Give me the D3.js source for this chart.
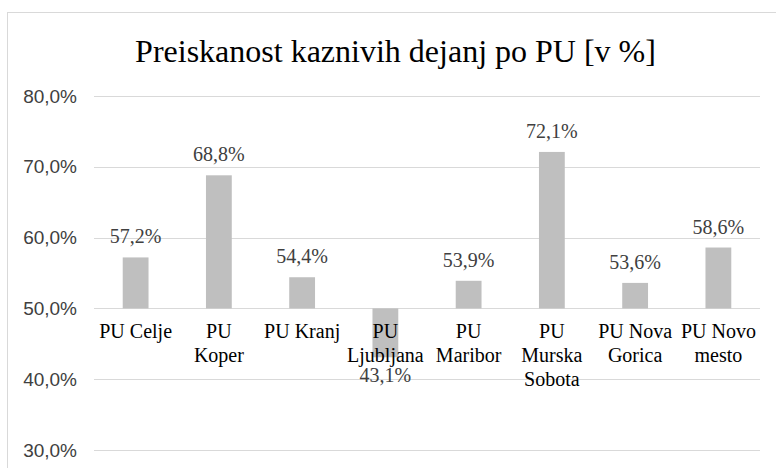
<!DOCTYPE html>
<html>
<head>
<meta charset="utf-8">
<script src="https://cdn.jsdelivr.net/npm/d3@7"></script>
<style>
  body { margin: 0; background: #fff; }
  svg { display: block; }
</style>
</head>
<body>
<div id="chart"></div>
<script>
const categories = ['PU Celje', 'PU Koper', 'PU Kranj', 'PU Ljubljana', 'PU Maribor',
  'PU Murska Sobota', 'PU Nova Gorica', 'PU Novo mesto'];
// how Excel wrapped each category label
const labelLines = [
  ['PU Celje'], ['PU', 'Koper'], ['PU Kranj'], ['PU', 'Ljubljana'], ['PU', 'Maribor'],
  ['PU', 'Murska', 'Sobota'], ['PU Nova', 'Gorica'], ['PU Novo', 'mesto']
];
const values = [57.2, 68.8, 54.4, 43.1, 53.9, 72.1, 53.6, 58.6];
const yTicks = [30, 40, 50, 60, 70, 80];
const baseValue = 50;

const W = 776, H = 468;
const serif = "'Liberation Serif'";
const sans = "'Liberation Sans'";

const sl = d3.formatLocale({ decimal: ',', thousands: '.', grouping: [3], currency: ['', ' €'] });
const pct = v => sl.format('.1f')(v) + '%';

const svg = d3.select('#chart').append('svg')
  .attr('width', W).attr('height', H);

// chart area border (runs off the right and bottom edges)
svg.append('rect')
  .attr('x', 7.5).attr('y', 12.5)
  .attr('width', 820).attr('height', 520)
  .attr('fill', '#fff')
  .attr('stroke', '#d9d9d9');

// title: set small and scaled up, the serif face misbehaves at large sizes here
svg.append('text')
  .attr('transform', 'translate(395.5,62) scale(1.6)')
  .attr('text-anchor', 'middle')
  .style('font-family', serif)
  .style('font-size', '20px')
  .attr('fill', '#000')
  .text('Preiskanost kaznivih dejanj po PU [v %]');

const x = d3.scaleBand()
  .domain(categories)
  .range([94, 760])
  .paddingInner(0.69)
  .paddingOuter(0.345);

const y = d3.scaleLinear()
  .domain([30, 80])
  .range([450, 96]);

// gridlines
svg.append('g')
  .selectAll('line')
  .data(yTicks)
  .join('line')
  .attr('x1', 94).attr('x2', 760)
  .attr('y1', d => Math.round(y(d)) + 0.5)
  .attr('y2', d => Math.round(y(d)) + 0.5)
  .attr('stroke', '#d9d9d9')
  .attr('stroke-width', 1);

// y axis labels
const yAxis = svg.append('g')
  .attr('transform', 'translate(94,0)')
  .call(d3.axisLeft(y).tickValues(yTicks).tickSize(0).tickPadding(17).tickFormat(pct));
yAxis.select('.domain').remove();
yAxis.selectAll('text')
  .style('font-family', sans)
  .style('font-size', '19px')
  .attr('fill', '#404040');

// bars, drawn from the 50 % baseline
svg.append('g')
  .selectAll('rect')
  .data(values)
  .join('rect')
  .attr('x', (d, i) => x(categories[i]))
  .attr('width', x.bandwidth())
  .attr('y', d => y(Math.max(d, baseValue)))
  .attr('height', d => Math.abs(y(d) - y(baseValue)))
  .attr('fill', '#bfbfbf');

// category labels sit just below the baseline
const cat = svg.append('g')
  .selectAll('text')
  .data(categories)
  .join('text')
  .attr('text-anchor', 'middle')
  .style('font-family', serif)
  .style('font-size', '20px')
  .attr('fill', '#000')
  .attr('transform', d => `translate(${x(d) + x.bandwidth() / 2},${y(baseValue) + 30})`);
cat.selectAll('tspan')
  .data((d, i) => labelLines[i])
  .join('tspan')
  .attr('x', 0)
  .attr('y', (d, j) => j * 24)
  .text(d => d);

// value labels
svg.append('g')
  .selectAll('text')
  .data(values)
  .join('text')
  .attr('x', (d, i) => x(categories[i]) + x.bandwidth() / 2)
  .attr('y', d => d >= baseValue ? y(d) - 14 : y(d) + 25)
  .attr('text-anchor', 'middle')
  .style('font-family', serif)
  .style('font-size', '20px')
  .attr('fill', '#404040')
  .text(pct);
</script>
</body>
</html>
